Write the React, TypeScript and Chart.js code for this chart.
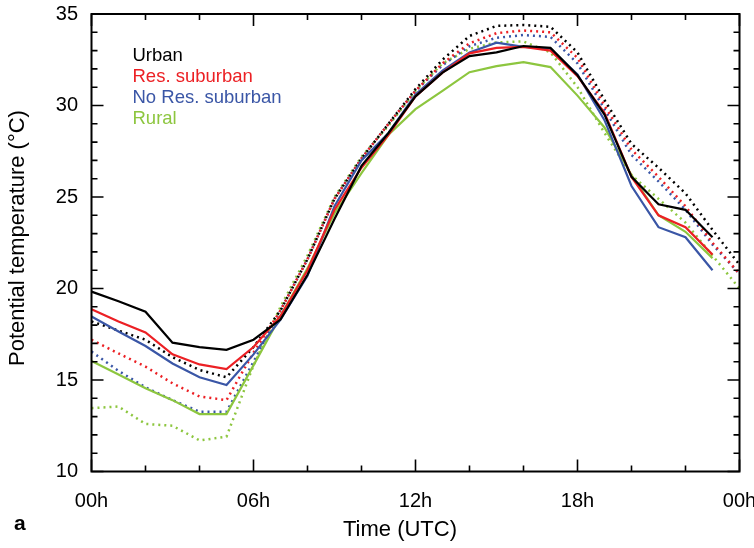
import React, { useEffect, useRef } from "react";
import { Chart, registerables } from "chart.js";

Chart.register(...registerables);

const hours = [0, 1, 2, 3, 4, 5, 6, 7, 8, 9, 10, 11, 12, 13, 14, 15, 16, 17, 18, 19, 20, 21, 22, 23, 24];

// Solid lines (hours 0..23)
const urbanSolid = [19.83, 19.3, 18.73, 17.04, 16.8, 16.65, 17.2, 18.3, 20.75, 23.8, 26.7, 28.5, 30.5, 31.8, 32.7, 32.9, 33.25, 33.15, 31.65, 29.5, 26.1, 24.6, 24.3, 22.8];
const resSolid = [18.87, 18.2, 17.6, 16.4, 15.85, 15.6, 16.8, 18.5, 21.0, 24.3, 26.6, 28.4, 30.5, 31.8, 32.85, 33.15, 33.2, 33.0, 31.6, 29.6, 26.1, 24.0, 23.35, 21.85];
const noResSolid = [18.47, 17.65, 16.86, 15.9, 15.15, 14.73, 16.4, 18.3, 20.7, 24.5, 27.0, 28.5, 30.6, 31.9, 32.9, 33.43, 33.2, 33.1, 31.7, 29.2, 25.6, 23.35, 22.8, 21.0];
const ruralSolid = [16.04, 15.3, 14.55, 13.9, 13.14, 13.14, 15.8, 18.5, 21.1, 24.1, 26.3, 28.4, 29.8, 30.8, 31.82, 32.15, 32.37, 32.1, 30.54, 28.8, 26.2, 24.0, 23.1, 21.66];

// Dotted lines (hours 0..24)
const urbanDotted = [18.2, 17.7, 17.2, 16.25, 15.55, 15.15, 16.8, 18.8, 21.6, 24.9, 27.1, 29.0, 30.9, 32.5, 33.8, 34.35, 34.4, 34.3, 32.9, 30.3, 27.9, 26.6, 25.2, 23.2, 21.3];
const resDotted = [17.2, 16.45, 15.73, 14.82, 14.1, 13.9, 16.5, 18.8, 21.6, 24.9, 27.1, 29.0, 30.8, 32.3, 33.4, 33.95, 34.1, 34.0, 32.6, 30.0, 27.6, 26.1, 24.5, 22.5, 20.8];
const noResDotted = [16.55, 15.5, 14.6, 13.9, 13.27, 13.27, 16.0, 18.8, 21.6, 24.9, 27.1, 29.0, 30.8, 32.2, 33.24, 33.7, 33.85, 33.75, 32.3, 29.8, 27.3, 25.85, 24.3, 22.4, 20.8];
const ruralDotted = [13.46, 13.55, 12.6, 12.5, 11.7, 11.9, 15.8, 19.0, 21.8, 25.0, 27.2, 28.9, 30.8, 32.3, 33.1, 33.45, 33.5, 32.9, 31.0, 28.5, 26.2, 24.9, 23.6, 21.8, 20.0];

const seriesNames = ["Urban", "Res. suburban", "No Res. suburban", "Rural"];
const seriesColors = ["#000000", "#ec2024", "#3a56a6", "#8dc63f"];
const xTickLabels = ["00h", "06h", "12h", "18h", "00h"];
const xTitle = "Time (UTC)";
const yTitle = "Potential temperature (°C)";
const FONT = "'Liberation Sans', Arial, sans-serif";

const toXY = (vals: number[]) => vals.map((v, i) => ({ x: hours[i], y: v }));

const frameTicks = {
  id: "frameTicks",
  afterDatasetsDraw(chart: any) {
    const { ctx, chartArea: a, scales } = chart;
    const xs = scales.x;
    const ys = scales.y;
    ctx.save();
    ctx.strokeStyle = "#000";
    ctx.lineWidth = 2;
    ctx.strokeRect(a.left, a.top, a.right - a.left, a.bottom - a.top);
    ctx.lineWidth = 1.6;
    ctx.beginPath();
    for (let h = 0; h <= 24; h += 2) {
      const x = xs.getPixelForValue(h);
      const len = h % 6 === 0 ? 12 : 6;
      ctx.moveTo(x, a.bottom);
      ctx.lineTo(x, a.bottom - len);
      ctx.moveTo(x, a.top);
      ctx.lineTo(x, a.top + len);
    }
    for (let v = 10; v <= 35; v += 1) {
      const y = ys.getPixelForValue(v);
      const len = v % 5 === 0 ? 12 : 6;
      ctx.moveTo(a.left, y);
      ctx.lineTo(a.left + len, y);
      ctx.moveTo(a.right, y);
      ctx.lineTo(a.right - len, y);
    }
    ctx.stroke();

    // legend texts
    ctx.font = `18.5px ${FONT}`;
    ctx.textBaseline = "middle";
    ctx.textAlign = "left";
    seriesNames.forEach((n, i) => {
      ctx.fillStyle = seriesColors[i];
      ctx.fillText(n, a.left + 41, a.top + 42 + i * 21);
    });

    // axis titles
    ctx.fillStyle = "#000";
    ctx.font = `22px ${FONT}`;
    ctx.textAlign = "center";
    ctx.fillText(xTitle, 400, 530);
    ctx.save();
    ctx.translate(18, 238);
    ctx.rotate(-Math.PI / 2);
    ctx.fillText(yTitle, 0, 0);
    ctx.restore();

    // panel label
    ctx.textAlign = "left";
    ctx.font = `bold 21px ${FONT}`;
    ctx.fillText("a", 14, 524);
    ctx.restore();
  },
};

export default function App() {
  const ref = useRef<HTMLCanvasElement>(null);
  useEffect(() => {
    if (!ref.current) return;
    const solid = [urbanSolid, resSolid, noResSolid, ruralSolid];
    const dotted = [urbanDotted, resDotted, noResDotted, ruralDotted];
    const datasets: any[] = [];
    solid.forEach((d, i) =>
      datasets.push({
        label: seriesNames[i],
        data: toXY(d),
        borderColor: seriesColors[i],
        borderWidth: 2.2,
        pointRadius: 0,
        tension: 0,
        fill: false,
      })
    );
    dotted.forEach((d, i) =>
      datasets.push({
        label: seriesNames[i] + " (dotted)",
        data: toXY(d),
        borderColor: seriesColors[i],
        borderWidth: 2.5,
        borderDash: [2, 4],
        pointRadius: 0,
        tension: 0,
        fill: false,
      })
    );
    const chart = new Chart(ref.current, {
      type: "line",
      data: { datasets },
      plugins: [frameTicks],
      options: {
        animation: false,
        responsive: false,
        layout: { padding: { top: 14, right: 14.5, left: 0, bottom: 0 } },
        plugins: { legend: { display: false }, tooltip: { enabled: false } },
        scales: {
          x: {
            type: "linear",
            min: 0,
            max: 24,
            grid: { display: false, drawTicks: false },
            border: { display: false },
            ticks: {
              stepSize: 6,
              padding: 18,
              color: "#000",
              font: { size: 20, family: FONT },
              callback: (v: any) => xTickLabels[Math.round(Number(v) / 6)],
            },
            afterFit: (s: any) => {
              s.height = 76.5;
              s.paddingLeft = 0;
              s.paddingRight = 0;
            },
          },
          y: {
            min: 10,
            max: 35,
            grid: { display: false, drawTicks: false },
            border: { display: false },
            ticks: {
              stepSize: 5,
              padding: 13.5,
              color: "#000",
              font: { size: 20, family: FONT },
            },
            afterFit: (s: any) => {
              s.width = 91.5;
              s.paddingTop = 0;
              s.paddingBottom = 0;
            },
          },
        },
      },
    });
    return () => chart.destroy();
  }, []);
  return (
    <div style={{ position: "absolute", left: 0, top: 0, width: 754, height: 548, background: "#fff" }}>
      <canvas ref={ref} width={754} height={548} />
    </div>
  );
}
